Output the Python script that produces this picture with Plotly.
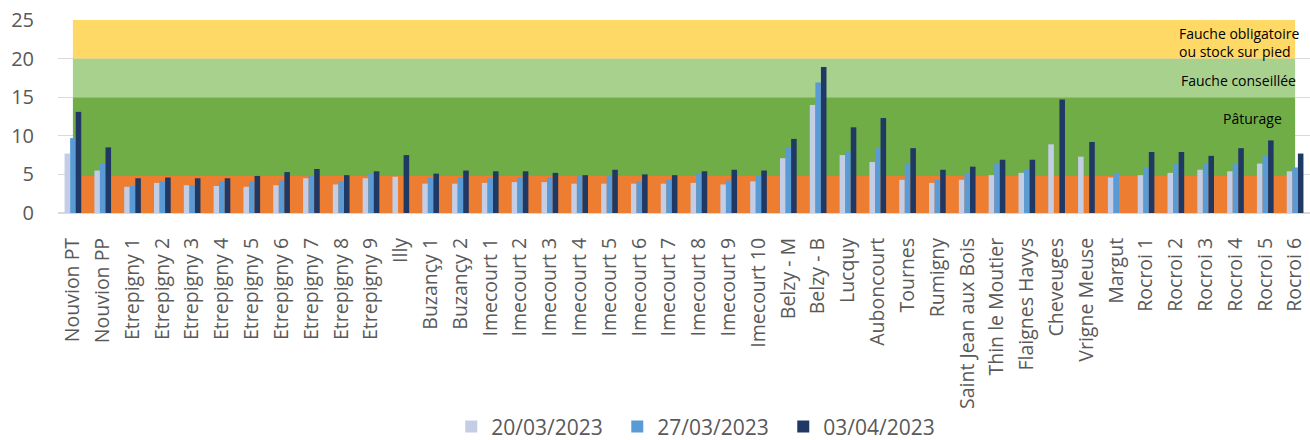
import plotly.graph_objects as go

categories = [
    "Nouvion PT", "Nouvion PP", "Etrepigny 1", "Etrepigny 2", "Etrepigny 3", "Etrepigny 4",
    "Etrepigny 5", "Etrepigny 6", "Etrepigny 7", "Etrepigny 8", "Etrepigny 9", "Illy",
    "Buzançy 1", "Buzançy 2", "Imecourt 1", "Imecourt 2", "Imecourt 3", "Imecourt 4",
    "Imecourt 5", "Imecourt 6", "Imecourt 7", "Imecourt 8", "Imecourt 9", "Imecourt 10",
    "Belzy - M", "Belzy - B", "Lucquy", "Auboncourt", "Tournes", "Rumigny",
    "Saint Jean aux Bois", "Thin le Moutier", "Flaignes Havys", "Cheveuges", "Vrigne Meuse",
    "Margut", "Rocroi 1", "Rocroi 2", "Rocroi 3", "Rocroi 4", "Rocroi 5", "Rocroi 6",
]

s_20_03 = [7.7, 5.5, 3.4, 3.9, 3.6, 3.5, 3.4, 3.6, 4.5, 3.7, 4.5, 4.7,
           3.8, 3.8, 3.9, 4.0, 4.0, 3.8, 3.8, 3.8, 3.8, 3.9, 3.7, 4.1,
           7.1, 14.0, 7.5, 6.6, 4.3, 3.9, 4.3, 4.9, 5.2, 8.9, 7.3,
           4.6, 4.9, 5.2, 5.6, 5.4, 6.4, 5.4]
s_27_03 = [9.7, 6.4, 3.5, 4.1, 3.6, 4.1, 4.1, 4.2, 4.9, 4.1, 5.1, None,
           4.6, 4.6, 4.5, 4.6, 4.6, 4.8, 4.9, 4.1, 4.3, 5.1, 4.2, 4.9,
           8.5, 16.9, 7.9, 8.4, 6.4, 4.3, 5.2, 6.4, 5.6, None, None,
           5.2, 5.9, 6.4, 6.4, 6.4, 7.4, 5.9]
s_03_04 = [13.1, 8.5, 4.5, 4.6, 4.5, 4.5, 4.8, 5.3, 5.7, 4.9, 5.4, 7.5,
           5.1, 5.5, 5.4, 5.4, 5.2, 4.9, 5.6, 5.0, 4.9, 5.4, 5.6, 5.5,
           9.6, 18.9, 11.1, 12.3, 8.4, 5.6, 6.0, 6.9, 6.9, 14.7, 9.2,
           None, 7.9, 7.9, 7.4, 8.4, 9.4, 7.7]

series_names = ["20/03/2023", "27/03/2023", "03/04/2023"]
series_colors = ["#C3CDE6", "#5B9BD5", "#203864"]

# Zones (stacked area in original): limits and colours
band_edges = [0, 4.8, 15, 20, 25]
band_colors = ["#ED7D31", "#70AD47", "#A9D18E", "#FFD966"]
zone_labels = ["Pâturage", "Fauche conseillée", "Fauche obligatoire<br>ou stock sur pied"]

y_ticks = [0, 5, 10, 15, 20, 25]

fig = go.Figure()
for name, vals, col in zip(series_names, [s_20_03, s_27_03, s_03_04], series_colors):
    fig.add_trace(go.Bar(x=categories, y=vals, name=name, marker=dict(color=col, line=dict(width=0))))

shapes = []
for i, col in enumerate(band_colors):
    shapes.append(dict(type="rect", xref="x", yref="y", x0=0, x1=len(categories) - 1,
                       y0=band_edges[i], y1=band_edges[i + 1], fillcolor=col,
                       line=dict(width=0), layer="between"))

ann_font = dict(size=14, color="#000000", family="Open Sans")
annotations = [
    dict(text=zone_labels[2], x=0.943, y=22.1, xref="paper", yref="y", showarrow=False,
         xanchor="center", yanchor="middle", font=ann_font, align="left"),
    dict(text=zone_labels[1], x=0.943, y=17.1, xref="paper", yref="y", showarrow=False,
         xanchor="center", yanchor="middle", font=ann_font),
    dict(text=zone_labels[0], x=0.954, y=12.2, xref="paper", yref="y", showarrow=False,
         xanchor="center", yanchor="middle", font=ann_font),
]

fig.update_layout(
    width=1310, height=440,
    margin=dict(l=58, r=0, t=20, b=227, autoexpand=False),
    paper_bgcolor="white", plot_bgcolor="white",
    barmode="group", bargap=0.44, bargroupgap=0,
    font=dict(family="Open Sans", color="#595959", size=20),
    shapes=shapes, annotations=annotations,
    legend=dict(orientation="h", x=0.513, xanchor="center", yref="container", y=0.03,
                yanchor="middle", font=dict(size=21, color="#595959"),
                entrywidth=121, entrywidthmode="pixels", itemsizing="constant"),
    xaxis=dict(type="category", tickangle=-90, showgrid=False, ticks="",
               tickfont=dict(size=19.5, color="#595959"), ticklabelstandoff=20,
               range=[-0.5, len(categories) - 0.5], showline=False, automargin=False),
    yaxis=dict(range=[0, 25], tickvals=y_ticks, showgrid=True, gridcolor="#D9D9D9",
               gridwidth=1, zeroline=True, zerolinecolor="#D9D9D9", zerolinewidth=1.5,
               tickfont=dict(size=20, color="#595959"), ticklabelstandoff=23, ticks="",
               ticklabeloverflow="allow", automargin=False),
)

# remove the default 8px page margin so the figure fills the 1310x440 window
fig.write_html("out.html", config={"displayModeBar": False},
               post_script="document.body.style.margin='0';document.body.style.overflow='hidden';")
